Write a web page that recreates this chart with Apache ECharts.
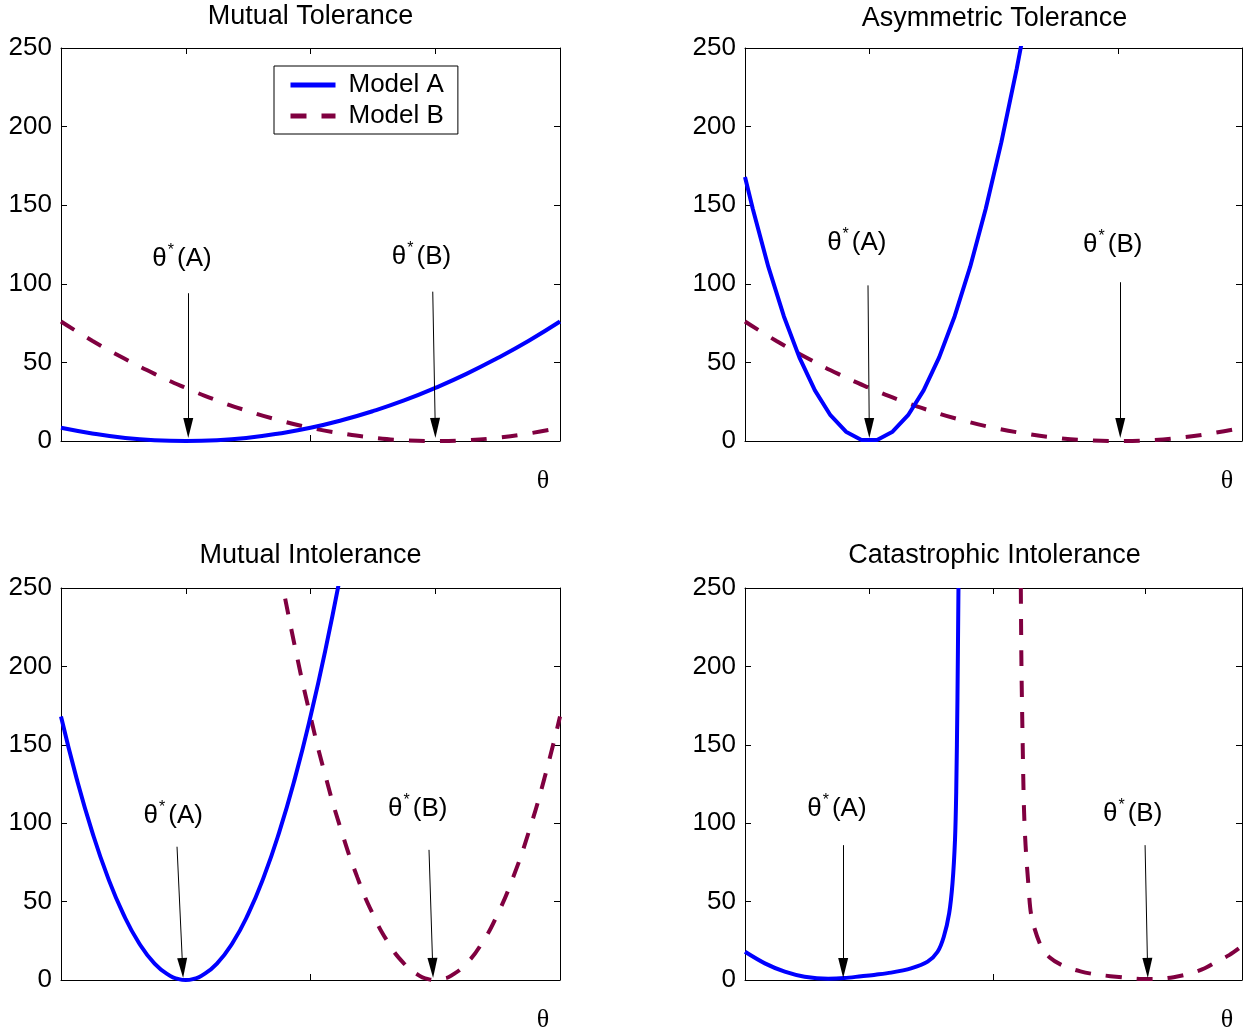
<!DOCTYPE html>
<html>
<head>
	<meta charset="utf-8" />
	<title>Tolerance</title>
	<script src="https://cdn.jsdelivr.net/npm/echarts@6/dist/echarts.min.js"></script>
	<style>
		html, body { margin: 0; padding: 0; background: #fff; }
		#chart { width: 1243px; height: 1034px; }
	</style>
</head>
<body>
	<div id="chart"></div>
	<script type="text/javascript">
		// panel titles
		var panelTitles = ['Mutual Tolerance', 'Asymmetric Tolerance', 'Mutual Intolerance', 'Catastrophic Intolerance'];

		// Mutual Tolerance
		var tlX = [0, 0.25, 0.5, 0.75, 1, 1.25, 1.5, 1.75, 2, 2.25, 2.5, 2.75, 3, 3.25, 3.5, 3.75, 4];
		var tlA = [8.4, 4.8, 2.1, 0.5, 0, 0.5, 2.1, 4.8, 8.4, 13.2, 19, 25.8, 33.8, 42.7, 52.8, 63.8, 76];
		var tlB = [76, 63.8, 52.8, 42.7, 33.8, 25.8, 19, 13.2, 8.4, 4.8, 2.1, 0.5, 0, 0.5, 2.1, 4.8, 8.4];

		// Asymmetric Tolerance
		var trAX = [0, 0.0625, 0.1875, 0.3125, 0.4375, 0.5625, 0.6875, 0.8125, 0.9375, 1.0625, 1.1875, 1.3125, 1.4375, 1.5625, 1.6875, 1.8125, 1.9375, 2.0625, 2.1875, 2.3125];
		var trA = [168, 147.7, 110.9, 79.4, 53.2, 32.2, 16.4, 5.9, 0.7, 0.7, 5.9, 16.4, 32.2, 53.2, 79.4, 110.9, 147.7, 189.8, 237, 289];
		var trBX = tlX;
		var trB = [76, 63.8, 52.8, 42.7, 33.8, 25.8, 19, 13.2, 8.4, 4.8, 2.1, 0.5, 0, 0.5, 2.1, 4.8, 8.4];

		// Mutual Intolerance
		var blAX = [0, 0.125, 0.25, 0.375, 0.5, 0.625, 0.75, 0.875, 0.9375, 1, 1.0625, 1.125, 1.25, 1.375, 1.5, 1.625, 1.75, 1.875, 2, 2.125, 2.25];
		var blA = [168, 128.6, 94.5, 65.6, 42, 23.6, 10.5, 2.6, 0.7, 0, 0.7, 2.6, 10.5, 23.6, 42, 65.6, 94.5, 128.6, 168, 212.6, 262.5];
		var blBX = [1.75, 1.875, 2, 2.125, 2.25, 2.375, 2.5, 2.625, 2.75, 2.875, 2.9375, 3, 3.0625, 3.125, 3.25, 3.375, 3.5, 3.625, 3.75, 3.875, 4];
		var blB = [262.5, 212.6, 168, 128.6, 94.5, 65.6, 42, 23.6, 10.5, 2.6, 0.7, 0, 0.7, 2.6, 10.5, 23.6, 42, 65.6, 94.5, 128.6, 168];

		// Catastrophic Intolerance
		var brAX = [0, 0.16, 0.32, 0.48, 0.67, 0.8, 0.935, 1.05, 1.176, 1.336, 1.47, 1.55, 1.6, 1.643, 1.67, 1.69, 1.7, 1.71, 1.718];
		var brA = [18, 10.6, 5.3, 2.1, 0.8, 1.2, 2.4, 3.4, 4.7, 7.4, 11.7, 18, 27.6, 42.5, 61.7, 89, 120, 180, 250];
		var brBX = [2.22, 2.225, 2.235, 2.245, 2.258, 2.28, 2.306, 2.378, 2.45, 2.565, 2.7, 2.82, 3.06, 3.2, 3.327, 3.45, 3.567, 3.7, 3.808, 3.9, 3.99];
		var brB = [250, 200, 150, 110, 86, 61.7, 40.4, 22.3, 14.5, 8.9, 5.5, 3.6, 1.5, 0.6, 0.7, 1.8, 3.8, 7.5, 12.3, 16, 21];

		// x tick positions (top and bottom edge)
		var topTicks = [[1, 2, 3], [1, 3], [1, 2, 3], [1, 2, 3.22]];
		var bottomTicks = [[2], [], [2], [2]];

		// annotation arrows: [start, end] for A and B
		var arrows = [
			[[[1.02, 94], [1.02, 8.3]], [[2.98, 95], [3.0, 8.3]]],
			[[[0.99, 99], [1.0, 8.3]], [[3.02, 101], [3.02, 8.3]]],
			[[[0.93, 85], [0.975, 7.7]], [[2.95, 83], [2.98, 7.7]]],
			[[[0.79, 86], [0.79, 7.7]], [[3.22, 86], [3.24, 7.7]]]
		];
		// annotation label centres
		var labelPos = [
			[[0.97, 116], [2.89, 117]],
			[[0.9, 126], [2.96, 125]],
			[[0.9, 105], [2.86, 109]],
			[[0.74, 109], [3.12, 106]]
		];

		var seriesA = [[tlX, tlA], [trAX, trA], [blAX, blA], [brAX, brA]];
		var seriesB = [[tlX, tlB], [trBX, trB], [blBX, blB], [brBX, brB]];
		var smoothA = [true, false, true, 0.3];
		var smoothB = [true, true, true, 0.3];

		var grids = [
			{ left: 61, top: 48, width: 499, height: 393 },
			{ left: 745, top: 48, width: 497, height: 393 },
			{ left: 61, top: 588, width: 499, height: 392 },
			{ left: 745, top: 588, width: 497, height: 392 }
		];

		var FONT = '"Liberation Sans", Arial, sans-serif';
		var blue = '#0000ff';
		var maroon = '#800040';

		function pairs(xs, ys) {
			return xs.map(function (x, i) { return [x, ys[i]]; });
		}

		function xAx(i, pos, ticks) {
			return {
				type: 'value', gridIndex: i, position: pos, min: 0, max: 4,
				axisLine: { show: true, onZero: false, lineStyle: { color: '#000', width: 1 } },
				axisTick: { show: true, inside: true, length: 6, customValues: ticks, lineStyle: { color: '#000' } },
				axisLabel: { show: false },
				splitLine: { show: false }
			};
		}
		function yAx(i, pos, labels) {
			return {
				type: 'value', gridIndex: i, position: pos, min: 0, max: 250, interval: 50,
				axisLine: { show: true, onZero: false, lineStyle: { color: '#000', width: 1 } },
				axisTick: { show: true, inside: true, length: 6, lineStyle: { color: '#000' } },
				axisLabel: { show: labels, color: '#000', fontSize: 26, fontFamily: FONT, margin: 9 },
				splitLine: { show: false }
			};
		}

		var xAxes = [], yAxes = [], series = [];
		for (var i = 0; i < 4; i++) {
			xAxes.push(xAx(i, 'bottom', bottomTicks[i]));
			xAxes.push(xAx(i, 'top', topTicks[i]));
			yAxes.push(yAx(i, 'left', true));
			yAxes.push(yAx(i, 'right', false));
			series.push({
				name: 'Model B', type: 'line', xAxisIndex: 2 * i, yAxisIndex: 2 * i,
				data: pairs(seriesB[i][0], seriesB[i][1]), symbol: 'none', smooth: smoothB[i],
				lineStyle: { color: maroon, width: 4, type: [16, 15] }, itemStyle: { color: maroon },
				z: 2
			});
			series.push({
				name: 'Model A', type: 'line', xAxisIndex: 2 * i, yAxisIndex: 2 * i,
				data: pairs(seriesA[i][0], seriesA[i][1]), symbol: 'none', smooth: smoothA[i],
				lineStyle: { color: blue, width: 4 }, itemStyle: { color: blue },
				z: 3,
				markLine: {
					silent: true, symbol: ['none', 'triangle'], symbolSize: [10, 20],
					lineStyle: { color: '#000', width: 1, type: 'solid' },
					itemStyle: { color: '#000' },
					label: { show: false }, emphasis: { disabled: true },
					data: arrows[i].map(function (a) {
						return [{ coord: a[0] }, { coord: a[1] }];
					})
				},
				markPoint: {
					silent: true, symbol: 'circle', symbolSize: 1,
					itemStyle: { color: 'rgba(0,0,0,0)' },
					label: {
						show: true, position: 'inside', color: '#000',
						formatter: function (p) { return '{t|θ}{s|*}{p|(' + p.name + ')}'; },
						rich: {
							t: { fontSize: 26, fontFamily: FONT, color: '#000' },
							s: { fontSize: 16, fontFamily: FONT, color: '#000', padding: [0, 3, 16, 1] },
							p: { fontSize: 26, fontFamily: FONT, color: '#000' }
						}
					},
					data: [
						{ name: 'A', coord: labelPos[i][0] },
						{ name: 'B', coord: labelPos[i][1] }
					]
				}
			});
		}

		var titleY = [17, 19, 556, 556];
		var graphics = [];
		for (var k = 0; k < 4; k++) {
			graphics.push({
				type: 'text', x: grids[k].left + 249.5, y: titleY[k],
				style: { text: panelTitles[k], font: '27px ' + FONT, fill: '#000', align: 'center', verticalAlign: 'middle' }
			});
			graphics.push({
				type: 'text', x: grids[k].left + 482, y: grids[k].top + grids[k].height + 40,
				style: { text: 'θ', font: '26px "Liberation Serif", serif', fill: '#000', align: 'center', verticalAlign: 'middle' }
			});
		}

		var chart = echarts.init(document.getElementById('chart'), null, { renderer: 'canvas' });
		chart.setOption({
			animation: false,
			backgroundColor: '#fff',
			grid: grids,
			xAxis: xAxes,
			yAxis: yAxes,
			legend: {
				data: ['Model A', 'Model B'],
				orient: 'vertical', left: 274, top: 66,
				itemWidth: 45, itemHeight: 14, itemGap: 5,
				padding: [6, 14, 5, 14],
				borderColor: '#000', borderWidth: 1, borderRadius: 0, backgroundColor: '#fff',
				itemStyle: { opacity: 0 },
				lineStyle: { width: 5 },
				textStyle: { color: '#000', fontSize: 26, fontFamily: FONT, padding: [0, 0, 0, 8] },
				selectedMode: false
			},
			graphic: graphics,
			series: series
		});
	</script>
</body>
</html>
